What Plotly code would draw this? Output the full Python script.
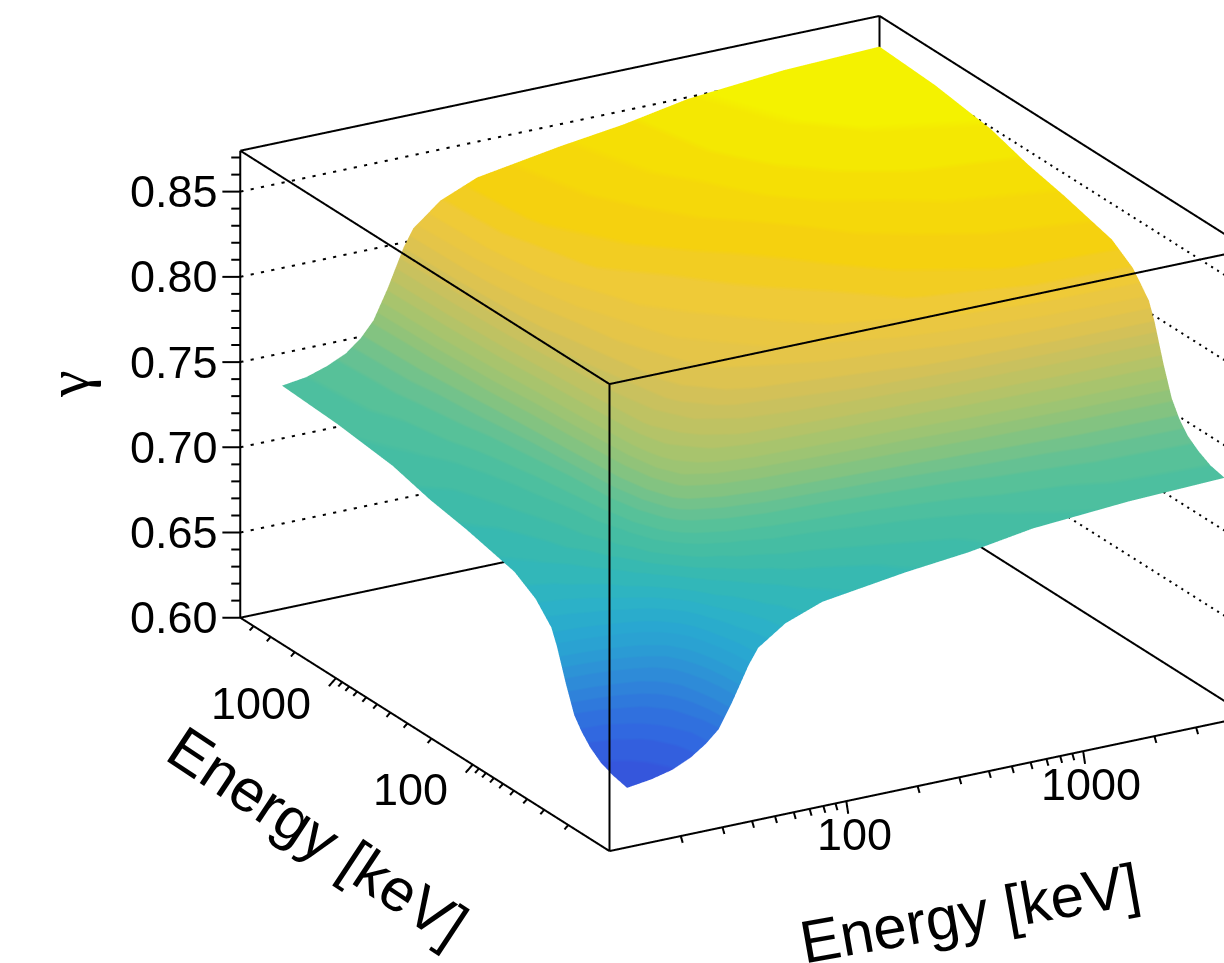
import math
import plotly.graph_objects as go

energy_x = [15, 19, 23.3, 27.9, 32.2, 36.5, 41.9, 48.9, 53.7, 70, 100, 224, 415, 775, 1968, 5000]
energy_y = [15, 19, 23.3, 27.9, 32.2, 36.5, 41.9, 48.9, 53.7, 70, 100, 224, 415, 775, 1968, 5000]
gamma = [
    [.623,.625,.628,.633,.639,.646,.661,.680,.689,.700,.708,.715,.719,.725,.729,.731],
    [.625,.627,.630,.635,.640,.648,.663,.682,.691,.702,.710,.717,.721,.727,.732,.733],
    [.628,.630,.633,.638,.644,.652,.666,.686,.694,.706,.714,.721,.725,.730,.735,.737],
    [.633,.635,.638,.643,.648,.656,.671,.691,.699,.711,.719,.726,.730,.736,.741,.742],
    [.639,.640,.644,.648,.654,.662,.677,.697,.706,.718,.725,.732,.737,.742,.747,.749],
    [.646,.648,.652,.656,.662,.670,.686,.705,.714,.726,.734,.741,.746,.751,.756,.758],
    [.661,.663,.666,.671,.677,.686,.701,.721,.730,.743,.751,.758,.762,.768,.773,.775],
    [.680,.682,.686,.691,.697,.705,.721,.742,.751,.764,.772,.779,.784,.790,.795,.797],
    [.689,.691,.694,.699,.706,.714,.730,.751,.761,.773,.782,.789,.794,.800,.805,.807],
    [.700,.702,.706,.711,.718,.726,.743,.764,.773,.786,.795,.802,.807,.813,.819,.820],
    [.708,.710,.714,.719,.725,.734,.751,.772,.782,.795,.803,.811,.816,.822,.827,.829],
    [.715,.717,.721,.726,.732,.741,.758,.779,.789,.802,.811,.819,.824,.830,.835,.837],
    [.719,.721,.725,.730,.737,.746,.762,.784,.794,.807,.816,.824,.829,.835,.840,.842],
    [.725,.727,.730,.736,.742,.751,.768,.790,.800,.813,.822,.830,.835,.841,.847,.849],
    [.729,.732,.735,.741,.747,.756,.773,.795,.805,.819,.827,.835,.840,.847,.852,.854],
    [.731,.733,.737,.742,.749,.758,.775,.797,.807,.820,.829,.837,.842,.849,.854,.856],
]
anchor_colors = [(53,86,220),(49,104,224),(47,122,220),(46,140,216),(43,157,212),(41,169,208),(44,178,198),(51,184,182),(65,188,166),(80,192,157),
                 (108,194,143),(140,195,124),(164,196,111),(188,194,100),(209,193,90),(228,196,74),(239,201,58),(245,208,16),(245,222,5),(244,242,0)]
energy_major = [100, 1000]
energy_minor = [20,30,40,50,60,70,80,90,200,300,400,500,600,700,800,900,2000,3000,4000]
gamma_major = [0.60,0.65,0.70,0.75,0.80,0.85]
gamma_minor = [0.61,0.62,0.63,0.64,0.66,0.67,0.68,0.69,0.71,0.72,0.73,0.74,0.76,0.77,0.78,0.79,0.81,0.82,0.83,0.84,0.86,0.87]
gamma_labels = ["0.60","0.65","0.70","0.75","0.80","0.85"]

E0, E1 = 10.0, 5000.0
Z0, Z1 = 0.60, 0.874
LOGSPAN = math.log10(E1/E0)
ZSPAN = Z1 - Z0
FONT = "Liberation Sans"
NBANDS = 40

fig = go.Figure()
cs = []
for i in range(NBANDS):
    t = i/(NBANDS-1)*(len(anchor_colors)-1)
    a = min(int(t), len(anchor_colors)-2)
    f = t-a
    rgb = [round(anchor_colors[a][k]*(1-f)+anchor_colors[a+1][k]*f) for k in range(3)]
    col = "rgb(%d,%d,%d)" % tuple(rgb)
    cs += [[i/NBANDS, col], [(i+1)/NBANDS, col]]
fig.add_trace(go.Surface(x=energy_x, y=energy_y, z=gamma, colorscale=cs, cmin=0.623, cmax=0.856,
                         showscale=False, hoverinfo="skip",
                         lighting=dict(ambient=1, diffuse=0, specular=0, fresnel=0, roughness=1),
                         contours=dict(x=dict(highlight=False), y=dict(highlight=False), z=dict(highlight=False))))

def seg(xs, ys, zs, a, b):
    xs += [a[0], b[0], None]; ys += [a[1], b[1], None]; zs += [a[2], b[2], None]

bx, by, bz = [], [], []
c = lambda i, j, k: ((E0, E1)[i], (E0, E1)[j], (Z0, Z1)[k])
for i in (0,1):
    for j in (0,1):
        seg(bx, by, bz, c(i,j,0), c(i,j,1))
for k in (0,1):
    for i in (0,1):
        seg(bx, by, bz, c(i,0,k), c(i,1,k))
        seg(bx, by, bz, c(0,i,k), c(1,i,k))
def up(e, du):
    return e * 10 ** (du * LOGSPAN)
for lst, f in ((energy_major, 1.0), (energy_minor, 0.55)):
    for e in lst:
        seg(bx, by, bz, (e, E0, Z0), (up(e, 0.003), E0, Z0 - f*0.028*ZSPAN))
        seg(bx, by, bz, (E0, e, Z0), (up(E0, -0.011*f), e, Z0 - f*0.014*ZSPAN))
for lst, f in ((gamma_major, 1.0), (gamma_minor, 0.5)):
    for g in lst:
        seg(bx, by, bz, (E0, E1, g), (up(E0, -0.0211*f), up(E1, 0.0122*f), g))
fig.add_trace(go.Scatter3d(x=bx, y=by, z=bz, mode="lines", line=dict(color="black", width=4), hoverinfo="skip", showlegend=False))

# dotted grid on the two back walls, one short dash per dot
gx, gy, gz = [], [], []
NDOTS = 62
for g in gamma_major[1:]:
    for d in range(NDOTS):
        a, b = d/NDOTS, (d+0.3)/NDOTS
        seg(gx, gy, gz, (up(E0, a), E1, g), (up(E0, b), E1, g))
        seg(gx, gy, gz, (E1, up(E0, a), g), (E1, up(E0, b), g))
fig.add_trace(go.Scatter3d(x=gx, y=gy, z=gz, mode="lines", line=dict(color="black", width=4), hoverinfo="skip", showlegend=False))

tick_font = dict(family=FONT, size=45, color="black")
anns = []
for e in energy_major:
    anns.append(dict(x=math.log10(e), y=math.log10(E0), z=Z0, text=str(e), showarrow=False, font=tick_font,
                     xanchor="center", yanchor="middle", xshift=8, yshift=-33))
    anns.append(dict(x=math.log10(E0), y=math.log10(e), z=Z0, text=str(e), showarrow=False, font=tick_font,
                     xanchor="right", yanchor="middle", xshift=-23, yshift=-25))
for g, t in zip(gamma_major, gamma_labels):
    anns.append(dict(x=math.log10(E0), y=math.log10(E1), z=g, text=t, showarrow=False, font=tick_font,
                     xanchor="right", yanchor="middle", xshift=-20))

PAD_LOG, PAD_Z = 0.1, 0.02
ax_common = dict(showgrid=False, showline=False, zeroline=False, showticklabels=False, showbackground=False,
                 showspikes=False, ticks="", title=dict(text=""), autorange=False)
ASPECT_XY = 1.533 * (LOGSPAN + 2*PAD_LOG) / LOGSPAN
ASPECT_Z = 1.0418 * (ZSPAN + 2*PAD_Z) / ZSPAN

D = 3.0
dirv = (-0.4655, -0.806, 0.365)
cen = (-0.2565, 0.1061, -0.0928)
scene = dict(
    domain=dict(x=[0,1], y=[0,1]),
    xaxis=dict(type="log", range=[1-PAD_LOG, math.log10(E1)+PAD_LOG], **ax_common),
    yaxis=dict(type="log", range=[1-PAD_LOG, math.log10(E1)+PAD_LOG], **ax_common),
    zaxis=dict(range=[Z0-PAD_Z, Z1+PAD_Z], **ax_common),
    aspectmode="manual", aspectratio=dict(x=ASPECT_XY, y=ASPECT_XY, z=ASPECT_Z),
    camera=dict(projection=dict(type="orthographic"), up=dict(x=0,y=0,z=1),
                center=dict(x=cen[0],y=cen[1],z=cen[2]),
                eye=dict(x=cen[0]+D*dirv[0], y=cen[1]+D*dirv[1], z=cen[2]+D*dirv[2])),
    annotations=anns,
)
title_font = dict(family=FONT, size=60, color="black")
paper = dict(xref="paper", yref="paper", xanchor="center", yanchor="middle", showarrow=False)
fig.update_layout(width=1224, height=963, margin=dict(l=0,r=0,t=0,b=0), paper_bgcolor="white",
                  showlegend=False, scene=scene, dragmode=False,
                  annotations=[
                      dict(x=970/1224, y=1-913/963, text="Energy [keV]", textangle=-10, font=title_font, **paper),
                      dict(x=318/1224, y=1-836/963, text="Energy [keV]", textangle=33.5, font=title_font, **paper),
                      dict(x=68/1224, y=1-384/963, text="γ", textangle=-90, font=dict(family="Liberation Serif", size=60, color="black"), **paper),
                  ])
fig.write_html("out.html", config=dict(displayModeBar=False), post_script="document.body.style.margin='0';document.documentElement.style.overflow='hidden';")
